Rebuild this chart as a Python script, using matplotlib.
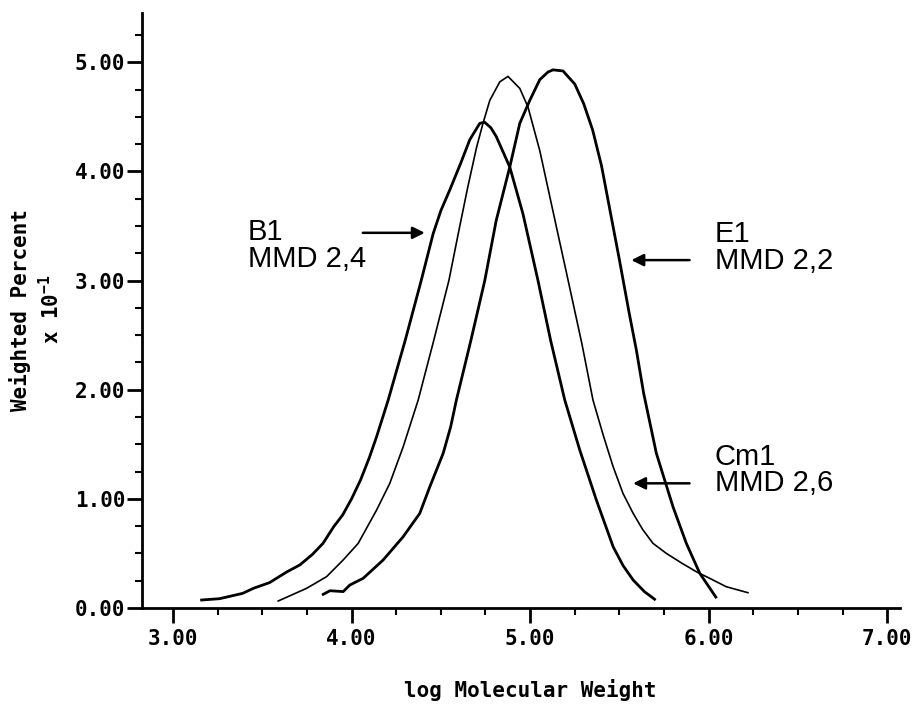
import matplotlib
matplotlib.use('Agg')
import matplotlib.pyplot as plt
from matplotlib.ticker import MultipleLocator, FormatStrFormatter

plt.rcParams['mathtext.default'] = 'regular'

# curves (log MW, weighted percent x 10^-1)
b1_x = [3.16, 3.26, 3.39, 3.45, 3.54, 3.64, 3.71, 3.78, 3.84, 3.90, 3.95, 4.00, 4.05, 4.10, 4.14,
        4.205, 4.30, 4.39, 4.457, 4.50, 4.55, 4.61, 4.662, 4.718, 4.745, 4.78, 4.81, 4.886, 4.96,
        5.044, 5.115, 5.194, 5.278, 5.371, 5.465, 5.52, 5.577, 5.64, 5.697]
b1_y = [0.073, 0.085, 0.134, 0.18, 0.232, 0.333, 0.394, 0.49, 0.592, 0.745, 0.852, 1.0, 1.172,
        1.38, 1.569, 1.905, 2.45, 3.0, 3.43, 3.64, 3.83, 4.07, 4.29, 4.44, 4.45, 4.40, 4.32, 4.04,
        3.61, 3.0, 2.45, 1.905, 1.447, 0.989, 0.561, 0.39, 0.256, 0.15, 0.08]

cm1_x = [3.589, 3.748, 3.86, 3.953, 4.037, 4.14, 4.214, 4.289, 4.373, 4.46, 4.545, 4.60, 4.65,
         4.70, 4.736, 4.774, 4.83, 4.876, 4.942, 4.988, 5.054, 5.09, 5.15, 5.213, 5.29, 5.352,
         5.41, 5.465, 5.52, 5.577, 5.63, 5.688, 5.763, 5.85, 5.93, 6.02, 6.098, 6.22]
cm1_y = [0.064, 0.18, 0.287, 0.44, 0.592, 0.897, 1.142, 1.477, 1.905, 2.45, 3.0, 3.45, 3.85,
         4.22, 4.44, 4.65, 4.82, 4.87, 4.76, 4.59, 4.19, 3.92, 3.47, 3.0, 2.42, 1.905, 1.58,
         1.294, 1.05, 0.867, 0.72, 0.592, 0.50, 0.41, 0.333, 0.26, 0.195, 0.14]

e1_x = [3.841, 3.879, 3.953, 3.99, 4.065, 4.177, 4.289, 4.382, 4.438, 4.513, 4.555, 4.587, 4.668,
        4.746, 4.81, 4.886, 4.942, 4.998, 5.054, 5.10, 5.128, 5.184, 5.25, 5.30, 5.35, 5.40,
        5.436, 5.50, 5.555, 5.595, 5.636, 5.707, 5.80, 5.875, 5.95, 6.04]
e1_y = [0.125, 0.158, 0.15, 0.21, 0.272, 0.44, 0.653, 0.867, 1.11, 1.417, 1.66, 1.905, 2.45, 3.0,
        3.55, 4.04, 4.44, 4.65, 4.84, 4.91, 4.93, 4.92, 4.80, 4.62, 4.38, 4.05, 3.74, 3.19, 2.70,
        2.363, 1.966, 1.417, 0.928, 0.592, 0.318, 0.10]

labels = ['B1\nMMD 2,4', 'E1\nMMD 2,2', 'Cm1\nMMD 2,6']
label_pos = [(3.42, 3.57), (6.033, 3.55), (6.033, 1.51)]
arrow_tail = [(4.063, 3.437), (5.893, 3.187), (5.893, 1.142)]
arrow_tip = [(4.41, 3.437), (5.567, 3.187), (5.577, 1.142)]

mono = 'DejaVu Sans Mono'

fig = plt.figure(figsize=(9.19, 7.04), dpi=100)
ax = fig.add_axes([0.1545, 0.1364, 0.8245, 0.845])

ax.plot(b1_x, b1_y, color='black', lw=2.0)
ax.plot(cm1_x, cm1_y, color='black', lw=1.2)
ax.plot(e1_x, e1_y, color='black', lw=2.0)

for txt, (tx, ty) in zip(labels, label_pos):
    ax.text(tx, ty, txt, family='Liberation Sans', fontsize=21, va='top', ha='left',
            linespacing=0.92)
for tail, tip in zip(arrow_tail, arrow_tip):
    ax.annotate('', xy=tip, xytext=tail,
                arrowprops=dict(arrowstyle='-|>', color='black', lw=1.8, mutation_scale=18,
                                shrinkA=0, shrinkB=0))

ax.set_xlim(2.826, 7.07)
ax.set_ylim(0, 5.45)
ax.xaxis.set_major_locator(MultipleLocator(1))
ax.xaxis.set_minor_locator(MultipleLocator(0.25))
ax.yaxis.set_major_locator(MultipleLocator(1))
ax.yaxis.set_minor_locator(MultipleLocator(0.25))
ax.xaxis.set_major_formatter(FormatStrFormatter('%.2f'))
ax.yaxis.set_major_formatter(FormatStrFormatter('%.2f'))

for s in ['top', 'right']:
    ax.spines[s].set_visible(False)
for s in ['left', 'bottom']:
    ax.spines[s].set_linewidth(2.0)

ax.tick_params(which='major', direction='out', length=11, width=2.0, pad=4)
ax.tick_params(which='minor', direction='out', length=5, width=1.5)
ax.tick_params(axis='y', which='major', pad=1)
for lab in ax.get_xticklabels() + ax.get_yticklabels():
    lab.set_family(mono)
    lab.set_fontweight('bold')
    lab.set_fontsize(15)

fig.text(530 / 919, 1 - 690 / 704, 'log Molecular Weight', family=mono, fontweight='bold',
         fontsize=15, ha='center', va='center')
fig.text(0.022, 0.56, 'Weighted Percent', family=mono, fontweight='bold', fontsize=15,
         rotation=90, ha='center', va='center')
fig.text(0.055, 0.56, 'x 10$^{-1}$', family=mono, fontweight='bold', fontsize=15,
         rotation=90, ha='center', va='center')

fig.savefig('out.png', dpi=100)
